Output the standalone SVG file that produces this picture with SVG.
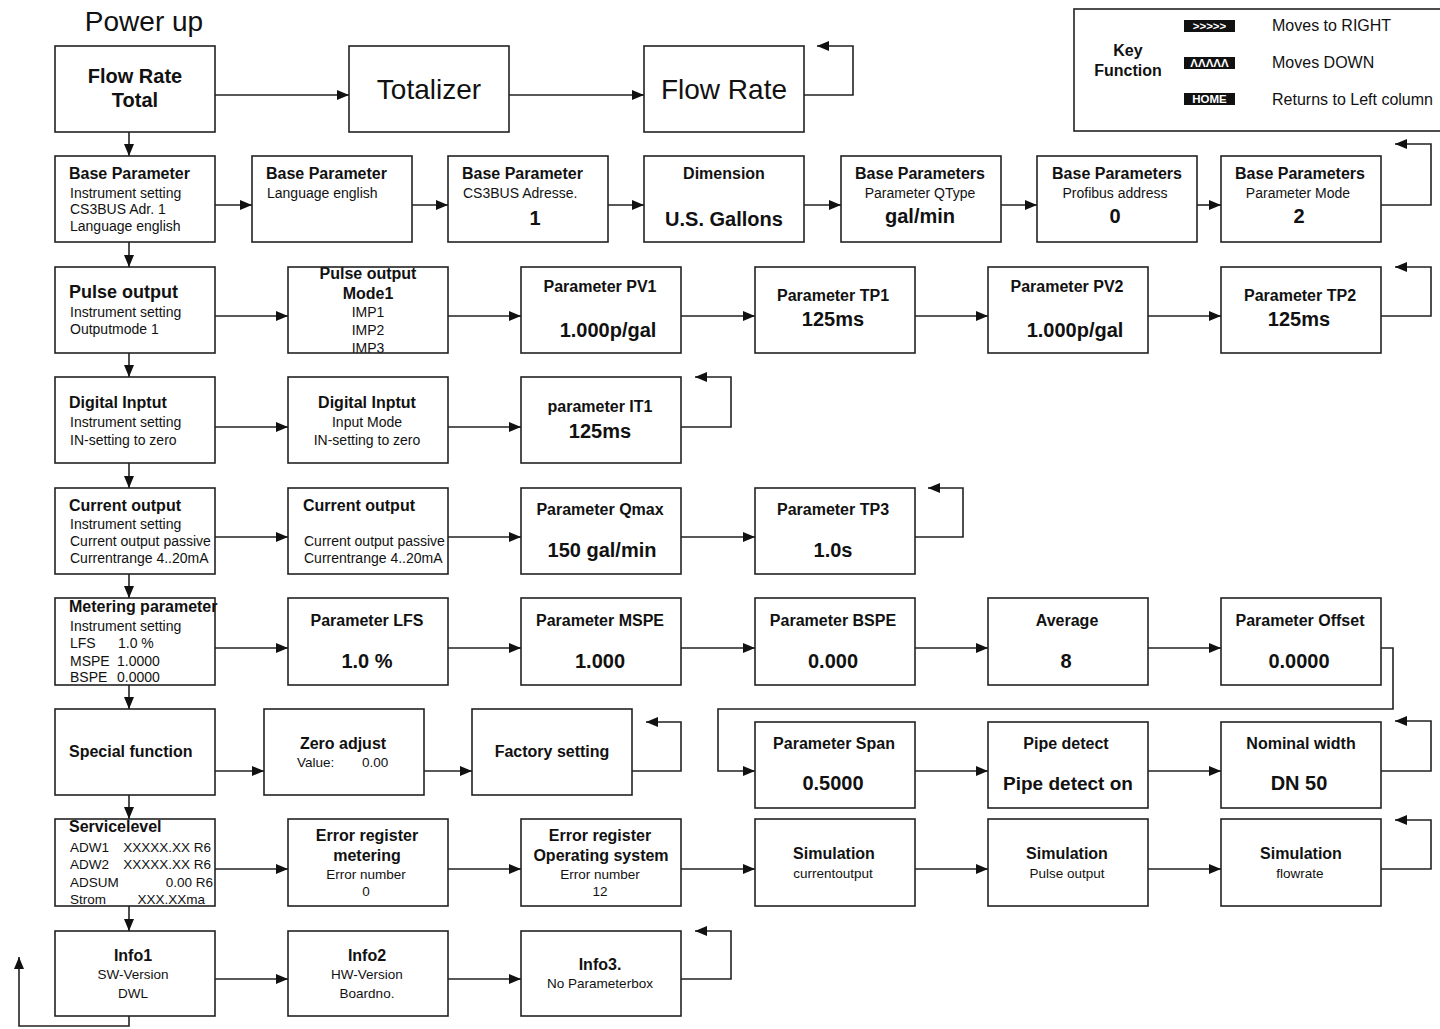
<svg xmlns="http://www.w3.org/2000/svg" width="1440" height="1029" viewBox="0 0 1440 1029">
<style>
text{font-family:"Liberation Sans",Arial,sans-serif;fill:#111}
.box{fill:#fff;stroke:#222;stroke-width:1.6}
.t{font-size:16px;font-weight:bold}
.tl{font-size:18px;font-weight:bold}
.s{font-size:14px}
.ss{font-size:13.5px}
.v{font-size:20px;font-weight:bold}
.c{text-anchor:middle}
.e{text-anchor:end}
.ln{fill:none;stroke:#222;stroke-width:1.6;marker-end:url(#ah)}
.key{fill:#111}
.kt{font-size:11.5px;font-weight:bold;fill:#fff;text-anchor:middle}
</style>
<defs>
<marker id="ah" markerUnits="userSpaceOnUse" markerWidth="12" markerHeight="10" viewBox="0 0 12 10" refX="12" refY="5" orient="auto">
<path d="M0,0 L12,5 L0,10 z" fill="#111"/>
</marker>
<clipPath id="clipPulse2"><rect x="288" y="267" width="160" height="86"/></clipPath>
</defs>
<rect width="1440" height="1029" fill="#fff"/>
<text x="144" y="31" class="c" style="font-size:28px">Power up</text>

<g id="legend">
<rect class="box" x="1074" y="9" width="380" height="122"/>
<text x="1128" y="56" class="t c">Key</text>
<text x="1128" y="76" class="t c">Function</text>
<rect class="key" x="1184" y="20" width="51" height="12"/>
<text x="1209.5" y="30" class="kt">&gt;&gt;&gt;&gt;&gt;</text>
<rect class="key" x="1184" y="57" width="51" height="12"/>
<text x="1209.5" y="67" class="kt">ΛΛΛΛΛ</text>
<rect class="key" x="1184" y="93" width="51" height="12"/>
<text x="1209.5" y="103" class="kt">HOME</text>
<text x="1272" y="31" style="font-size:16px">Moves to RIGHT</text>
<text x="1272" y="68" style="font-size:16px">Moves DOWN</text>
<text x="1272" y="105" style="font-size:16px">Returns to Left column</text>
</g>

<g id="connectors">
<path class="ln" d="M215,95 H349"/>
<path class="ln" d="M509,95 H644"/>
<path class="ln" d="M804,95 H853 V46 H817"/>
<path class="ln" d="M129,132 V156"/>
<path class="ln" d="M129,242 V267"/>
<path class="ln" d="M129,353 V377"/>
<path class="ln" d="M129,463 V488"/>
<path class="ln" d="M129,574 V598"/>
<path class="ln" d="M129,685 V709"/>
<path class="ln" d="M129,795 V819"/>
<path class="ln" d="M129,906 V931"/>
<path class="ln" d="M129,1016 V1026 H19 V957"/>
<path class="ln" d="M215,205 H252"/>
<path class="ln" d="M412,205 H448"/>
<path class="ln" d="M608,205 H644"/>
<path class="ln" d="M804,205 H841"/>
<path class="ln" d="M1001,205 H1037"/>
<path class="ln" d="M1197,205 H1221"/>
<path class="ln" d="M1381,205 H1431 V144 H1395"/>
<path class="ln" d="M215,316 H288"/>
<path class="ln" d="M448,316 H521"/>
<path class="ln" d="M681,316 H755"/>
<path class="ln" d="M915,316 H988"/>
<path class="ln" d="M1148,316 H1221"/>
<path class="ln" d="M1381,316 H1431 V267 H1395"/>
<path class="ln" d="M215,427 H288"/>
<path class="ln" d="M448,427 H521"/>
<path class="ln" d="M681,427 H731 V377 H695"/>
<path class="ln" d="M215,537 H288"/>
<path class="ln" d="M448,537 H521"/>
<path class="ln" d="M681,537 H755"/>
<path class="ln" d="M915,537 H963 V488 H928"/>
<path class="ln" d="M215,648 H288"/>
<path class="ln" d="M448,648 H521"/>
<path class="ln" d="M681,648 H755"/>
<path class="ln" d="M915,648 H988"/>
<path class="ln" d="M1148,648 H1221"/>
<path class="ln" d="M1381,648 H1393 V709 H718 V771 H755"/>
<path class="ln" d="M215,771 H264"/>
<path class="ln" d="M424,771 H472"/>
<path class="ln" d="M632,771 H681 V722 H646"/>
<path class="ln" d="M915,771 H988"/>
<path class="ln" d="M1148,771 H1221"/>
<path class="ln" d="M1381,771 H1431 V721 H1395"/>
<path class="ln" d="M215,869 H288"/>
<path class="ln" d="M448,869 H521"/>
<path class="ln" d="M681,869 H755"/>
<path class="ln" d="M915,869 H988"/>
<path class="ln" d="M1148,869 H1221"/>
<path class="ln" d="M1381,869 H1431 V820 H1395"/>
<path class="ln" d="M215,979 H288"/>
<path class="ln" d="M448,979 H521"/>
<path class="ln" d="M681,979 H731 V931 H695"/>
</g>

<g id="n-flowrate-total">
<rect class="box" x="55" y="46" width="160" height="86"/>
<text x="135" y="83" class="c" style="font-size:20px;font-weight:bold">Flow Rate</text>
<text x="135" y="107" class="c" style="font-size:20px;font-weight:bold">Total</text>
</g>
<g id="n-totalizer">
<rect class="box" x="349" y="46" width="160" height="86"/>
<text x="429" y="99" class="c" style="font-size:28px">Totalizer</text>
</g>
<g id="n-flowrate">
<rect class="box" x="644" y="46" width="160" height="86"/>
<text x="724" y="99" class="c" style="font-size:28px">Flow Rate</text>
</g>

<g id="n-base1">
<rect class="box" x="55" y="156" width="160" height="86"/>
<text x="69" y="179" class="t">Base Parameter</text>
<text x="70" y="198" class="s">Instrument setting</text>
<text x="70" y="214" class="s">CS3BUS Adr.  1</text>
<text x="70" y="231" class="s">Language english</text>
</g>
<g id="n-base2">
<rect class="box" x="252" y="156" width="160" height="86"/>
<text x="266" y="179" class="t">Base Parameter</text>
<text x="267" y="198" class="s">Language english</text>
</g>
<g id="n-base3">
<rect class="box" x="448" y="156" width="160" height="86"/>
<text x="462" y="179" class="t">Base Parameter</text>
<text x="463" y="198" class="s">CS3BUS Adresse.</text>
<text x="535" y="225" class="v c">1</text>
</g>
<g id="n-dimension">
<rect class="box" x="644" y="156" width="160" height="86"/>
<text x="724" y="179" class="t c">Dimension</text>
<text x="724" y="226" class="v c">U.S. Gallons</text>
</g>
<g id="n-qtype">
<rect class="box" x="841" y="156" width="160" height="86"/>
<text x="920" y="179" class="t c">Base Parameters</text>
<text x="920" y="198" class="s c">Parameter QType</text>
<text x="920" y="223" class="v c">gal/min</text>
</g>
<g id="n-profibus">
<rect class="box" x="1037" y="156" width="160" height="86"/>
<text x="1117" y="179" class="t c">Base Parameters</text>
<text x="1115" y="198" class="s c">Profibus  address</text>
<text x="1115" y="223" class="v c">0</text>
</g>
<g id="n-mode">
<rect class="box" x="1221" y="156" width="160" height="86"/>
<text x="1300" y="179" class="t c">Base Parameters</text>
<text x="1298" y="198" class="s c">Parameter Mode</text>
<text x="1299" y="223" class="v c">2</text>
</g>

<g id="n-pulse1">
<rect class="box" x="55" y="267" width="160" height="86"/>
<text x="69" y="298" class="tl">Pulse output</text>
<text x="70" y="317" class="s">Instrument setting</text>
<text x="70" y="334" class="s">Outputmode 1</text>
</g>
<g id="n-pulse2">
<rect x="288" y="267" width="160" height="86" fill="#fff"/>
<g clip-path="url(#clipPulse2)">
<text x="368" y="279" class="t c">Pulse output</text>
<text x="368" y="299" class="t c">Mode1</text>
<text x="368" y="317" class="s c">IMP1</text>
<text x="368" y="335" class="s c">IMP2</text>
<text x="368" y="353" class="s c">IMP3</text>
</g>
<rect x="288" y="267" width="160" height="86" fill="none" stroke="#222" stroke-width="1.6"/>
</g>
<g id="n-pv1">
<rect class="box" x="521" y="267" width="160" height="86"/>
<text x="600" y="292" class="t c">Parameter PV1</text>
<text x="608" y="337" class="v c">1.000p/gal</text>
</g>
<g id="n-tp1">
<rect class="box" x="755" y="267" width="160" height="86"/>
<text x="833" y="301" class="t c">Parameter TP1</text>
<text x="833" y="326" class="v c">125ms</text>
</g>
<g id="n-pv2">
<rect class="box" x="988" y="267" width="160" height="86"/>
<text x="1067" y="292" class="t c">Parameter PV2</text>
<text x="1075" y="337" class="v c">1.000p/gal</text>
</g>
<g id="n-tp2">
<rect class="box" x="1221" y="267" width="160" height="86"/>
<text x="1300" y="301" class="t c">Parameter TP2</text>
<text x="1299" y="326" class="v c">125ms</text>
</g>

<g id="n-digital1">
<rect class="box" x="55" y="377" width="160" height="86"/>
<text x="69" y="408" class="t">Digital Inptut</text>
<text x="70" y="427" class="s">Instrument setting</text>
<text x="70" y="445" class="s">IN-setting to zero</text>
</g>
<g id="n-digital2">
<rect class="box" x="288" y="377" width="160" height="86"/>
<text x="367" y="408" class="t c">Digital Inptut</text>
<text x="367" y="427" class="s c">Input Mode</text>
<text x="367" y="445" class="s c">IN-setting to zero</text>
</g>
<g id="n-it1">
<rect class="box" x="521" y="377" width="160" height="86"/>
<text x="600" y="412" class="t c">parameter IT1</text>
<text x="600" y="438" class="v c">125ms</text>
</g>

<g id="n-current1">
<rect class="box" x="55" y="488" width="160" height="86"/>
<text x="69" y="511" class="t">Current output</text>
<text x="70" y="529" class="s">Instrument setting</text>
<text x="70" y="546" class="s">Current output passive</text>
<text x="70" y="563" class="s">Currentrange 4..20mA</text>
</g>
<g id="n-current2">
<rect class="box" x="288" y="488" width="160" height="86"/>
<text x="303" y="511" class="t">Current output</text>
<text x="304" y="546" class="s">Current output passive</text>
<text x="304" y="563" class="s">Currentrange 4..20mA</text>
</g>
<g id="n-qmax">
<rect class="box" x="521" y="488" width="160" height="86"/>
<text x="600" y="515" class="t c">Parameter Qmax</text>
<text x="602" y="557" class="v c">150 gal/min</text>
</g>
<g id="n-tp3">
<rect class="box" x="755" y="488" width="160" height="86"/>
<text x="833" y="515" class="t c">Parameter TP3</text>
<text x="833" y="557" class="v c">1.0s</text>
</g>

<g id="n-metering">
<rect class="box" x="55" y="598" width="160" height="87"/>
<text x="69" y="612" class="t">Metering parameter</text>
<text x="70" y="631" class="s">Instrument setting</text>
<text x="70" y="648" class="s">LFS</text>
<text x="118" y="648" class="s">1.0 %</text>
<text x="70" y="666" class="s">MSPE</text>
<text x="117" y="666" class="s">1.0000</text>
<text x="70" y="682" class="s">BSPE</text>
<text x="117" y="682" class="s">0.0000</text>
</g>
<g id="n-lfs">
<rect class="box" x="288" y="598" width="160" height="87"/>
<text x="367" y="626" class="t c">Parameter LFS</text>
<text x="367" y="668" class="v c">1.0 %</text>
</g>
<g id="n-mspe">
<rect class="box" x="521" y="598" width="160" height="87"/>
<text x="600" y="626" class="t c">Parameter MSPE</text>
<text x="600" y="668" class="v c">1.000</text>
</g>
<g id="n-bspe">
<rect class="box" x="755" y="598" width="160" height="87"/>
<text x="833" y="626" class="t c">Parameter BSPE</text>
<text x="833" y="668" class="v c">0.000</text>
</g>
<g id="n-average">
<rect class="box" x="988" y="598" width="160" height="87"/>
<text x="1067" y="626" class="t c">Average</text>
<text x="1066" y="668" class="v c">8</text>
</g>
<g id="n-offset">
<rect class="box" x="1221" y="598" width="160" height="87"/>
<text x="1300" y="626" class="t c">Parameter Offset</text>
<text x="1299" y="668" class="v c">0.0000</text>
</g>

<g id="n-special">
<rect class="box" x="55" y="709" width="160" height="86"/>
<text x="69" y="757" class="t">Special function</text>
</g>
<g id="n-zero">
<rect class="box" x="264" y="709" width="160" height="86"/>
<text x="343" y="749" class="t c">Zero adjust</text>
<text x="297" y="767" class="ss">Value:</text>
<text x="362" y="767" class="ss">0.00</text>
</g>
<g id="n-factory">
<rect class="box" x="472" y="709" width="160" height="86"/>
<text x="552" y="757" class="t c">Factory setting</text>
</g>
<g id="n-span">
<rect class="box" x="755" y="722" width="160" height="86"/>
<text x="834" y="749" class="t c">Parameter Span</text>
<text x="833" y="790" class="v c">0.5000</text>
</g>
<g id="n-pipe">
<rect class="box" x="988" y="722" width="160" height="86"/>
<text x="1066" y="749" class="t c">Pipe detect</text>
<text x="1068" y="790" class="c" style="font-size:19px;font-weight:bold">Pipe detect on</text>
</g>
<g id="n-nominal">
<rect class="box" x="1221" y="722" width="160" height="86"/>
<text x="1301" y="749" class="t c">Nominal width</text>
<text x="1299" y="790" class="v c">DN 50</text>
</g>

<g id="n-service">
<rect class="box" x="55" y="819" width="160" height="87"/>
<text x="69" y="832" class="t">Servicelevel</text>
<text x="70" y="852" class="ss">ADW1</text>
<text x="211" y="852" class="ss e">XXXXX.XX R6</text>
<text x="70" y="869" class="ss">ADW2</text>
<text x="211" y="869" class="ss e">XXXXX.XX R6</text>
<text x="70" y="887" class="ss">ADSUM</text>
<text x="213" y="887" class="ss e">0.00 R6</text>
<text x="70" y="904" class="ss">Strom</text>
<text x="205" y="904" class="ss e">XXX.XXma</text>
</g>
<g id="n-err1">
<rect class="box" x="288" y="819" width="160" height="87"/>
<text x="367" y="841" class="t c">Error register</text>
<text x="367" y="861" class="t c">metering</text>
<text x="366" y="879" class="ss c">Error number</text>
<text x="366" y="896" class="ss c">0</text>
</g>
<g id="n-err2">
<rect class="box" x="521" y="819" width="160" height="87"/>
<text x="600" y="841" class="t c">Error register</text>
<text x="601" y="861" class="t c">Operating system</text>
<text x="600" y="879" class="ss c">Error number</text>
<text x="600" y="896" class="ss c">12</text>
</g>
<g id="n-sim1">
<rect class="box" x="755" y="819" width="160" height="87"/>
<text x="834" y="859" class="t c">Simulation</text>
<text x="833" y="878" class="ss c">currentoutput</text>
</g>
<g id="n-sim2">
<rect class="box" x="988" y="819" width="160" height="87"/>
<text x="1067" y="859" class="t c">Simulation</text>
<text x="1067" y="878" class="ss c">Pulse output</text>
</g>
<g id="n-sim3">
<rect class="box" x="1221" y="819" width="160" height="87"/>
<text x="1301" y="859" class="t c">Simulation</text>
<text x="1300" y="878" class="ss c">flowrate</text>
</g>

<g id="n-info1">
<rect class="box" x="55" y="931" width="160" height="85"/>
<text x="133" y="961" class="t c">Info1</text>
<text x="133" y="979" class="ss c">SW-Version</text>
<text x="133" y="998" class="ss c">DWL</text>
</g>
<g id="n-info2">
<rect class="box" x="288" y="931" width="160" height="85"/>
<text x="367" y="961" class="t c">Info2</text>
<text x="367" y="979" class="ss c">HW-Version</text>
<text x="367" y="998" class="ss c">Boardno.</text>
</g>
<g id="n-info3">
<rect class="box" x="521" y="931" width="160" height="85"/>
<text x="600" y="970" class="t c">Info3.</text>
<text x="600" y="988" class="ss c">No Parameterbox</text>
</g>
</svg>
